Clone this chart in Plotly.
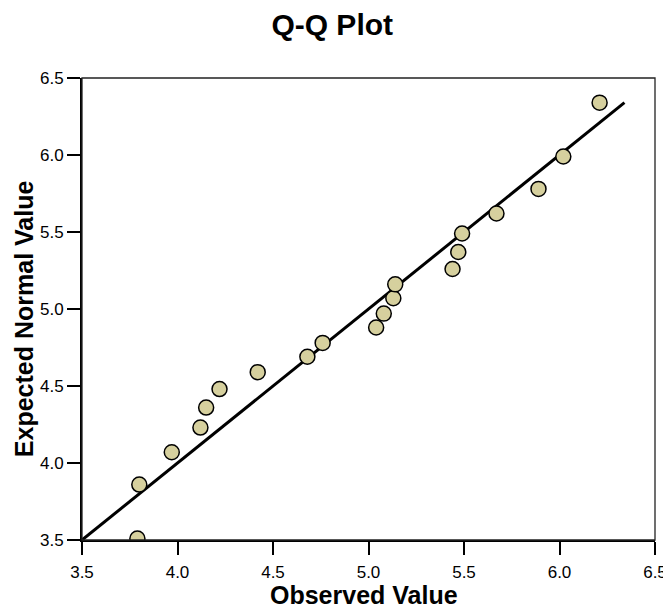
import plotly.graph_objects as go

observed = [3.79, 3.80, 3.97, 4.12, 4.15, 4.22, 4.42, 4.68, 4.76, 5.04,
            5.08, 5.13, 5.14, 5.44, 5.47, 5.49, 5.67, 5.89, 6.02, 6.21]
expected = [3.51, 3.86, 4.07, 4.23, 4.36, 4.48, 4.59, 4.69, 4.78, 4.88,
            4.97, 5.07, 5.16, 5.26, 5.37, 5.49, 5.62, 5.78, 5.99, 6.34]
ref_line_x = [3.5, 6.34]
ref_line_y = [3.5, 6.34]
tick_vals = [3.5, 4.0, 4.5, 5.0, 5.5, 6.0, 6.5]

FONT = "Liberation Sans, Arial, Helvetica, sans-serif"

fig = go.Figure()
fig.add_trace(go.Scatter(x=ref_line_x, y=ref_line_y, mode="lines",
                         line=dict(color="black", width=3), hoverinfo="skip",
                         showlegend=False))
fig.add_trace(go.Scatter(x=observed, y=expected, mode="markers",
                         marker=dict(size=15, color="#d6d09e",
                                     line=dict(color="black", width=1.5)),
                         showlegend=False))

axis_common = dict(range=[3.5, 6.5], tickvals=tick_vals,
                   ticktext=[f"{v:.1f}" for v in tick_vals],
                   showgrid=False, zeroline=False, showline=True,
                   linecolor="black", linewidth=2, ticks="outside",
                   ticklen=13, tickwidth=2, tickcolor="black",
                   automargin=False,
                   tickfont=dict(family=FONT, size=17, color="black"))

# page body has an 8px margin, so the figure is sized to fit the 671x612 window
fig.update_layout(
    width=663, height=604,
    margin=dict(l=74, r=16, t=70, b=72),
    paper_bgcolor="white", plot_bgcolor="white",
    title=dict(text="<b>Q-Q Plot</b>", x=0.489, xref="container",
               xanchor="center", y=0.972, yanchor="middle",
               font=dict(family=FONT, size=30, color="black")),
    xaxis=dict(ticklabelstandoff=3, **axis_common),
    yaxis=dict(**axis_common),
    annotations=[
        dict(text="<b>Observed Value</b>", xref="paper", yref="paper",
             x=0.492, y=0, xanchor="center", yanchor="middle", yshift=-55,
             showarrow=False, font=dict(family=FONT, size=25, color="black")),
        dict(text="<b>Expected Normal Value</b>", xref="paper", yref="paper",
             x=0, y=0.478, xanchor="center", yanchor="middle", xshift=-58,
             textangle=-90, showarrow=False,
             font=dict(family=FONT, size=25, color="black")),
    ],
    shapes=[dict(type="rect", xref="paper", yref="paper", x0=0, y0=0, x1=1, y1=1,
                 line=dict(color="#222222", width=1.3), layer="above")],
)

fig.write_html("out.html")
